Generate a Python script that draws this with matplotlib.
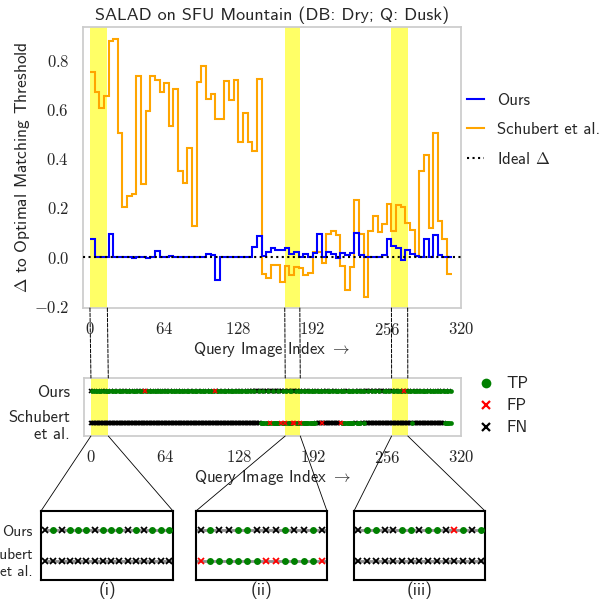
#!/usr/bin/env python3
# -*- coding: utf-8 -*-

"""
plot.py
Delta to optimal matching threshold, SALAD on SFU Mountain (Dry vs Dusk)
"""

import numpy as np
import matplotlib
matplotlib.use('Agg')
import matplotlib.pyplot as plt
from matplotlib.lines import Line2D
from matplotlib.patches import ConnectionPatch
from matplotlib.ticker import FuncFormatter

OUT_FN = 'out.png'
BLOCK = 4  # the delta is constant over blocks of 4 query images

# delta per block of 4 queries (block starts at 0, 4, 8, ...)
OURS_DELTA = [0.073, 0.0, 0.0, 0.0, 0.095, 0.0, 0.0, 0.0,
              0.0, -0.003, 0.0, 0.0, -0.002, 0.0, 0.024, 0.0,
              0.0, 0.003, 0.0, 0.0, 0.0, 0.0, 0.0, 0.0,
              0.0, 0.013, 0.007, -0.094, 0.0, 0.0, 0.0, 0.0,
              0.0, 0.0, 0.0, 0.041, 0.086, 0.005, 0.022, 0.038,
              0.030, 0.030, 0.038, 0.012, 0.020, 0.0, 0.012, 0.0,
              0.017, 0.095, 0.002, 0.020, 0.012, -0.005, 0.018, 0.010,
              0.018, 0.099, 0.010, 0.0, 0.0, 0.0, 0.0, 0.008,
              0.072, 0.045, 0.036, -0.013, 0.030, 0.013, 0.004, 0.0,
              0.072, 0.0, 0.090, 0.010, 0.0, 0.0]
SCHUBERT_DELTA = [0.754, 0.672, 0.605, 0.654, 0.880, 0.887, 0.505, 0.203,
                  0.248, 0.258, 0.736, 0.298, 0.594, 0.737, 0.719, 0.672,
                  0.706, 0.532, 0.684, 0.349, 0.300, 0.443, 0.128, 0.711,
                  0.776, 0.641, 0.663, 0.563, 0.563, 0.716, 0.640, 0.719,
                  0.466, 0.584, 0.468, 0.431, 0.724, -0.068, -0.087, -0.032,
                  -0.034, -0.103, -0.037, -0.073, -0.040, -0.045, -0.072, -0.065,
                  0.019, 0.019, -0.023, 0.095, 0.106, 0.088, -0.036, -0.133,
                  -0.042, 0.231, 0.093, -0.163, 0.105, 0.167, 0.100, 0.133,
                  0.217, 0.106, 0.213, 0.204, 0.140, 0.112, 0.003, 0.350,
                  0.415, 0.117, 0.503, 0.147, 0.075, -0.068]

# per query outcome: T = TP, F = FP, N = FN
OURS_LABELS = ''.join([
    'NTNTTTNTTTNTNTTT', 'TNTTNTTNTTTNTNTT', 'NTTNTTTNTNTTNTNF',
    'TTNTTNTTTNTNTTTN', 'TNTTNTTNTTTNTTNT', 'TTNTTTNTTNTTTNTT',
    'NTTTNTTNTTTFNTTN', 'TTNTTTNTNTTTNTTN', 'TNTTNTTNTNTNNTNN',
    'NTNNNTNNNTNNNTNN', 'NNTNNNTN', 'NTNNTTNNNTNNTN',
    'TNTTNNTTNTTNTNTT', 'NTTNTNNTTTNTNNTT', 'TNTTNTNNTTTNTTNT',
    'TNNTTNTNNNTNNTNN', 'TNNTNNNTNTNNTN', 'NTTNNTTNTTNFTNT',
    'NTTNTTNTNTTNTTTN', 'TNTTNTTTNTNTTNTTNTTNT'])
SCHUBERT_RUNS = [('N', 147), ('T', 8), ('F', 1), ('T', 8), ('F', 1), ('T', 3),
                 ('F', 1), ('T', 6), ('F', 2), ('T', 4), ('F', 1), ('T', 13),
                 ('N', 5), ('F', 1), ('N', 15), ('F', 1), ('T', 11), ('N', 2),
                 ('T', 4), ('N', 2), ('T', 1), ('N', 41), ('T', 1), ('N', 27),
                 ('T', 6)]

ZOOM_RANGES = [(0, 15), (168, 181), (260, 274)]
ZOOM_NAMES = ['(i)', '(ii)', '(iii)']
X_TICKS = [0, 64, 128, 192, 256, 320]
Y_TICKS = [-0.2, 0.0, 0.2, 0.4, 0.6, 0.8]

TXT = '#262626'
SPINE = '#cccccc'
BAND = '#ffff66'


def px_box(left, top, right, bottom, w=608.0, h=604.0):
    """pixel box -> figure fraction rect"""
    return [left / w, 1 - bottom / h, (right - left) / w, (bottom - top) / h]


def draw_labels(ax, labels, row, ms, mew, lw):
    lab = np.array(list(labels))
    idx = np.arange(len(lab))
    ax.plot(idx, np.full(len(idx), row), color='#8c8c8c', lw=lw, zorder=2)
    for key, mk, col in [('N', 'x', 'k'), ('T', 'o', 'green'), ('F', 'x', 'red')]:
        sel = idx[lab == key]
        if mk == 'o':
            ax.plot(sel, np.full(len(sel), row), 'o', color=col, ms=ms, mew=0, zorder=3)
        else:
            ax.plot(sel, np.full(len(sel), row), 'x', color=col, ms=ms * 0.8, mew=mew, zorder=3)


def main():
    plt.rcParams['font.family'] = ['cmss10', 'DejaVu Sans']
    plt.rcParams['mathtext.fontset'] = 'cm'
    plt.rcParams['text.color'] = TXT
    plt.rcParams['axes.labelcolor'] = TXT
    plt.rcParams['xtick.color'] = TXT
    plt.rcParams['ytick.color'] = TXT
    plt.rcParams['axes.unicode_minus'] = False

    schubert_labels = ''.join(k * n for k, n in SCHUBERT_RUNS)
    assert len(OURS_LABELS) == 312 and len(schubert_labels) == 312
    assert len(OURS_DELTA) == len(SCHUBERT_DELTA) == 78

    fig = plt.figure(figsize=(6.08, 6.04), dpi=100)
    ax = fig.add_axes(px_box(83, 27, 461, 308))
    ax_s = fig.add_axes(px_box(84, 378, 461, 436))
    boxes = [fig.add_axes(px_box(41, 511, 173, 580)),
             fig.add_axes(px_box(196, 511, 327, 580)),
             fig.add_axes(px_box(354, 511, 485, 580))]

    num_fmt = FuncFormatter(lambda v, p: '$%d$' % v)

    # TOP: delta plot --------------
    edges = np.arange(len(OURS_DELTA) + 1) * BLOCK
    for a, b in ZOOM_RANGES:
        ax.axvspan(a, b, color=BAND, lw=0, zorder=0)
    ax.stairs(SCHUBERT_DELTA, edges, baseline=None, color='orange', lw=1.5, zorder=2)
    ax.stairs(OURS_DELTA, edges, baseline=None, color='blue', lw=1.5, zorder=3)
    ax.axhline(0, color='k', ls=':', lw=1.5, zorder=4)
    ax.set_xlim(-6, 320)
    ax.set_ylim(-0.207, 0.935)
    ax.set_xticks(X_TICKS)
    ax.set_yticks(Y_TICKS)
    ax.xaxis.set_major_formatter(num_fmt)
    ax.yaxis.set_major_formatter(FuncFormatter(lambda v, p: '$%.1f$' % v))
    ax.tick_params(length=0, labelsize=12)
    ax.tick_params(axis='x', pad=9)
    ax.tick_params(axis='y', pad=10)
    ax.set_xlabel(r'Query Image Index $\rightarrow$', fontsize=12, labelpad=2)
    ax.set_ylabel(r'$\Delta$ to Optimal Matching Threshold', fontsize=12.5, labelpad=1)
    ax.set_title('SALAD on SFU Mountain (DB: Dry; Q: Dusk)', fontsize=13, pad=5)
    for sp in ax.spines.values():
        sp.set_color(SPINE)
        sp.set_linewidth(1.25)

    handles = [Line2D([], [], color='blue', lw=1.5),
               Line2D([], [], color='orange', lw=1.5),
               Line2D([], [], color='k', ls=':', lw=1.5)]
    fig.legend(handles, ['Ours', 'Schubert et al.', r'Ideal $\Delta$'],
               loc='center left', bbox_to_anchor=(467 / 608.0, 1 - 130 / 604.0),
               frameon=False, fontsize=12, handlelength=1.0, handletextpad=0.8,
               labelspacing=0.85, borderpad=0, borderaxespad=0)

    # MIDDLE: TP/FP/FN strip ------------
    for a, b in ZOOM_RANGES:
        ax_s.axvspan(a, b, color=BAND, lw=0, zorder=0)
    draw_labels(ax_s, OURS_LABELS, 1, 3.4, 1.1, 1.4)
    draw_labels(ax_s, schubert_labels, 0, 3.4, 1.1, 1.4)
    ax_s.set_xlim(-6, 320)
    ax_s.set_ylim(-0.4, 1.4)
    ax_s.set_xticks(X_TICKS)
    ax_s.xaxis.set_major_formatter(num_fmt)
    ax_s.set_yticks([0, 1])
    ax_s.set_yticklabels(['Schubert\net al.', 'Ours'], ha='right', multialignment='right')
    ax_s.tick_params(length=0, labelsize=12)
    ax_s.tick_params(axis='x', pad=9.5)
    ax_s.tick_params(axis='y', pad=10)
    ax_s.set_xlabel(r'Query Image Index $\rightarrow$', fontsize=12, labelpad=1)
    for sp in ax_s.spines.values():
        sp.set_color(SPINE)
        sp.set_linewidth(1.25)

    handles = [Line2D([], [], ls='', marker='o', color='green', ms=7, mew=0),
               Line2D([], [], ls='', marker='x', color='red', ms=6, mew=1.6),
               Line2D([], [], ls='', marker='x', color='k', ms=6, mew=1.6)]
    fig.legend(handles, ['TP', 'FP', 'FN'], loc='center left',
               bbox_to_anchor=(478 / 608.0, 1 - 406 / 604.0), frameon=False,
               fontsize=12, handlelength=1.0, handletextpad=0.7,
               labelspacing=0.42, borderpad=0, borderaxespad=0)

    # BOTTOM: zoomed boxes ------------
    for i, (bx, (a, b)) in enumerate(zip(boxes, ZOOM_RANGES)):
        draw_labels(bx, OURS_LABELS, 1, 5, 1.3, 2.0)
        draw_labels(bx, schubert_labels, 0, 5, 1.3, 2.0)
        bx.set_xlim(a - 0.5, b + 0.5)
        bx.set_ylim(-0.62, 1.62)
        bx.set_xticks([])
        if i == 0:
            bx.set_yticks([0, 1])
            bx.set_yticklabels(['Schubert\net al.', 'Ours'], ha='right',
                               multialignment='right')
            bx.tick_params(axis='y', length=0, labelsize=11, pad=6)
        else:
            bx.set_yticks([])
        bx.set_xlabel(ZOOM_NAMES[i], fontsize=12.5, labelpad=1)
        for sp in bx.spines.values():
            sp.set_color('k')
            sp.set_linewidth(1.5)

        # dashed guides top plot -> strip
        for x in (a, b):
            fig.add_artist(ConnectionPatch(
                xyA=(x, 0), coordsA=ax.get_xaxis_transform(),
                xyB=(x, 1), coordsB=ax_s.get_xaxis_transform(),
                color='k', ls='--', lw=0.7))
        # strip -> zoom box corners
        for x, cx in ((a, 0), (b, 1)):
            fig.add_artist(ConnectionPatch(
                xyA=(x, 0), coordsA=ax_s.get_xaxis_transform(),
                xyB=(cx, 1), coordsB=bx.transAxes,
                color='k', lw=0.6))

    fig.savefig(OUT_FN, dpi=100)


if __name__ == '__main__':
    main()
